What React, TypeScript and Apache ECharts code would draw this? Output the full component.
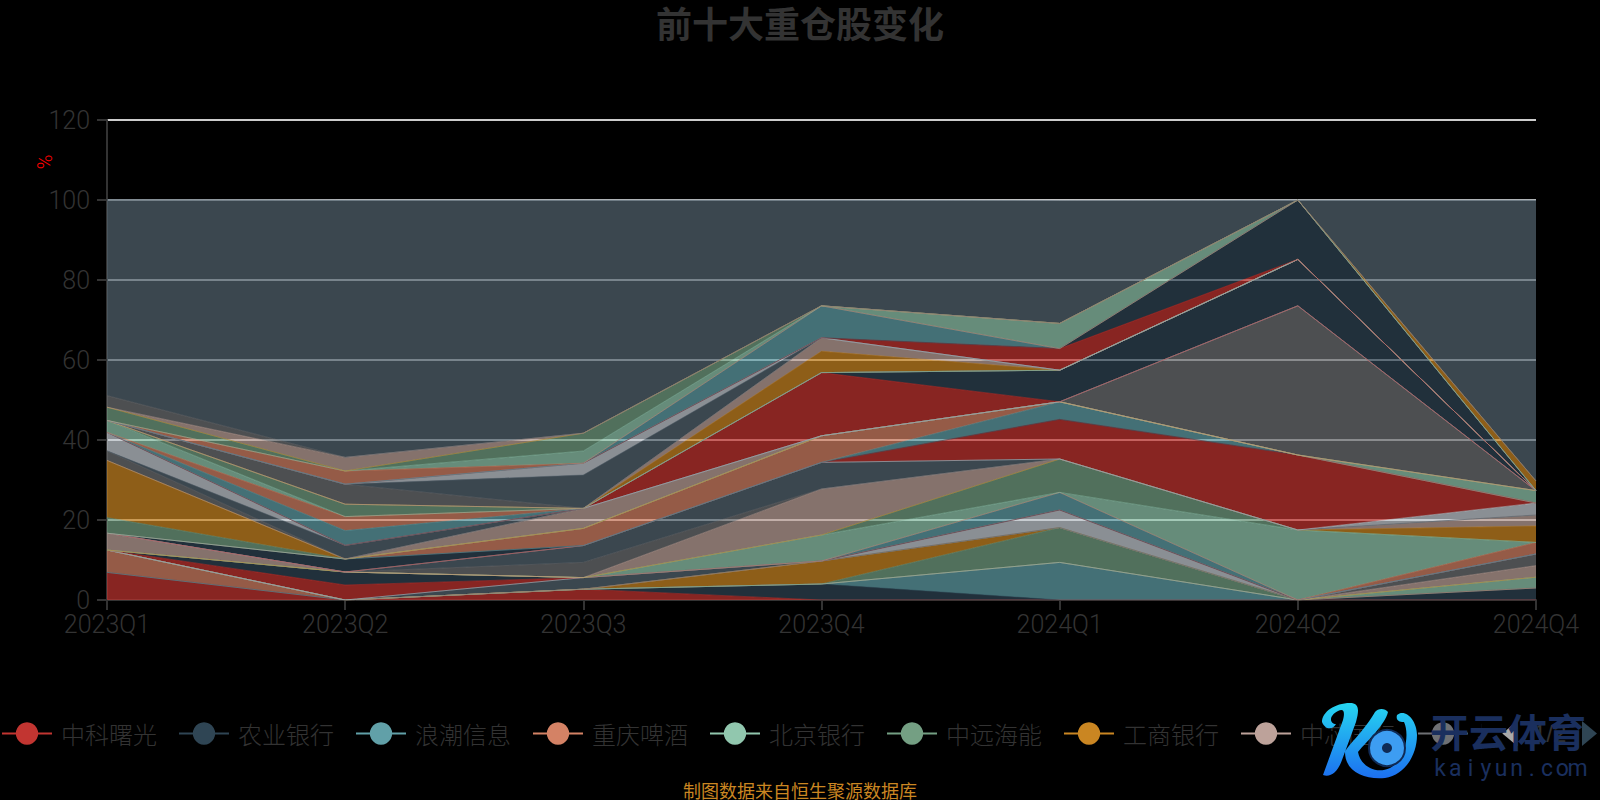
import React, { useEffect, useRef } from "react";
import * as echarts from "echarts";

const quarters = ["2023Q1", "2023Q2", "2023Q3", "2023Q4", "2024Q1", "2024Q2", "2024Q4"];
const yTicks = { min: 0, max: 120, interval: 20 };
const palette = ["#c23531", "#2f4554", "#61a0a8", "#d48265", "#91c7ae", "#749f83", "#ca8622", "#bda29a", "#6e7074", "#546570", "#c4ccd3"];
const legendNames = ["中科曙光", "农业银行", "浪潮信息", "重庆啤酒", "北京银行", "中远海能", "工商银行", "中芯国际", "持仓九", "持仓十"];

// one row per holding, bottom of the stack first; the last row is the remainder up to 100 %
const holdings: number[][] = [
  [6.9, 0, 2.7, 0, 0, 0, 0],
  [0, 0, 0, 4, 0, 0, 3],
  [0, 0, 0, 0, 9.4, 0, 0],
  [5.6, 0, 0, 0, 0, 0, 0],
  [0, 0, 0, 0, 0, 0, 2.7],
  [0, 0, 0, 0, 8.7, 0, 0],
  [0, 0, 0, 5.75, 0, 0, 0],
  [0, 0, 0, 0, 0, 0, 2.9],
  [0, 0, 0, 0, 0, 0, 2.9],
  [0, 0, 2.9, 0, 0, 0, 0],
  [0, 0, 0, 0, 4.4, 0, 0],
  [0, 3.75, 0, 0, 0, 0, 0],
  [0, 3.25, 0, 0, 0, 0, 0],
  [0, 0, 0, 0, 4.4, 0, 0],
  [0, 0, 0, 0, 0, 0, 2.9],
  [0, 0, 0, 6.5, 0, 17.5, 0],
  [0, 0, 0, 0, 8.35, 0, 0],
  [0, 0, 0, 0, 0, 0, 4.1],
  [4.2, 0, 0, 11.5, 0, 0, 2.75],
  [0, 0, 3.8, 0, 0, 0, 0],
  [0, 0, 4.2, 6.65, 0, 0, 0],
  [0, 0, 0, 0, 0, 0, 3],
  [0, 0, 0, 0, 9.9, 18.75, 0],
  [0, 3.25, 0, 0, 0, 0, 0],
  [0, 0, 0, 0, 4.4, 0, 0],
  [0, 0, 4.3, 6.65, 0, 0, 0],
  [0, 0, 0, 0, 0, 0, 3.1],
  [3.9, 0, 0, 0, 0, 0, 0],
  [14.3, 0, 0, 0, 0, 0, 0],
  [0, 0, 5, 0, 0, 0, 0],
  [2.4, 0, 0, 0, 0, 37.3, 0],
  [0, 3.4, 0, 0, 0, 0, 0],
  [4.6, 0, 0, 0, 0, 0, 0],
  [0, 0, 0, 15.8, 0, 0, 0],
  [0, 0, 0, 0, 7.9, 11.6, 0],
  [0, 3.7, 0, 0, 0, 0, 0],
  [0, 3.5, 0, 0, 0, 0, 0],
  [3, 0, 0, 0, 0, 0, 0],
  [0, 3.1, 0, 0, 0, 0, 0],
  [0, 0, 0, 5.35, 0, 0, 0],
  [0, 0, 0, 3.35, 0, 0, 0],
  [0, 5, 0, 0, 0, 0, 0],
  [0, 0, 8.35, 0, 0, 0, 0],
  [0, 0, 2.95, 0, 0, 0, 0],
  [0, 0, 0, 0, 5.4, 0, 0],
  [0, 0, 0, 0, 0, 14.85, 0],
  [0, 0, 0, 8, 0, 0, 0],
  [0, 3.3, 0, 0, 0, 0, 0],
  [0, 0, 3.05, 0, 6.3, 0, 0],
  [3.3, 0, 4.45, 0, 0, 0, 0],
  [0, 0, 0, 0, 0, 0, 2.4],
  [0, 3.4, 0, 0, 0, 0, 0],
  [2.9, 0, 0, 0, 0, 0, 0],
  [49, 64.35, 58.3, 26.45, 30.75, 0, 70.25],
];

const stampName = ["开", "云", "体", "育"];
const stampSite = ["k", "a", "i", "y", "u", "n", ".", "c", "o", "m"];

const LIGHT = "Roboto, 'Noto Sans CJK SC', sans-serif";
const CJK = "'Noto Sans CJK SC', sans-serif";
const STAMP = "#1a2f5e";

const STEM_D =
  "M1350 703 C1335 703 1322 712 1322 722 C1325 730 1333 730 1336 724 C1330 724 1328 716 1338 711 C1344 708 1345 712 1343 720 L1323 775 C1330 778 1338 772 1342 760 L1356 722 C1360 708 1358 703 1350 703 Z " +
  "M1375 712 C1365 730 1348 745 1345 752 C1345 772 1365 780 1385 778 C1405 775 1417 755 1417 735 C1417 720 1405 708 1397 715 C1395 722 1402 722 1404 722 C1410 735 1405 760 1390 768 C1375 775 1360 765 1358 752 C1368 740 1385 725 1388 712 C1385 708 1378 708 1375 712 Z";
echarts.graphic.registerShape("stampLogo", echarts.graphic.extendPath(STEM_D, {}));

export default function App() {
  const ref = useRef<HTMLDivElement>(null);
  useEffect(() => {
    document.body.style.margin = "0";
    document.body.style.background = "#000";
    const chart = echarts.init(ref.current!, null, { renderer: "svg" });
    const names = holdings.map((_, i) => legendNames[i] ?? (i === holdings.length - 1 ? "其他" : `持仓${i + 1}`));
    const blueGrad = () =>
      new echarts.graphic.LinearGradient(0, 0, 0, 1, [
        { offset: 0, color: "#26d6f0" },
        { offset: 1, color: "#1c6ff0" },
      ]);
    chart.setOption({
      animation: false,
      backgroundColor: "#000",
      color: palette,
      title: [
        { text: "前十大重仓股变化", left: "center", top: 4, padding: 0, textStyle: { color: "#333", fontSize: 36, fontWeight: "bold", fontFamily: CJK } },
        { text: "制图数据来自恒生聚源数据库", left: "center", top: 776, textStyle: { color: "#ca8622", fontSize: 18, fontWeight: "normal", fontFamily: CJK } },
      ],
      grid: { left: 107, right: 64, top: 120, bottom: 200 },
      legend: {
        type: "scroll",
        left: 1,
        top: 721,
        width: 1596,
        padding: 0,
        data: legendNames,
        itemWidth: 50,
        itemHeight: 28,
        itemGap: 21,
        lineStyle: { width: 2 },
        textStyle: { color: "#333", fontSize: 24, fontFamily: CJK, fontWeight: 300, padding: [0, 0, 0, 4] },
        pageIconColor: "#2f4554",
        pageIconInactiveColor: "#aaa",
        pageIconSize: [15, 27],
        pageTextStyle: { color: "#333", fontSize: 24 },
      },
      xAxis: {
        type: "category",
        boundaryGap: false,
        data: quarters,
        axisLine: { lineStyle: { color: "#333", width: 2 } },
        axisTick: { length: 10, lineStyle: { color: "#333", width: 2 } },
        axisLabel: { color: "#333", fontSize: 25, margin: 12, fontFamily: LIGHT, fontWeight: 300 },
      },
      yAxis: {
        type: "value",
        ...yTicks,
        axisLine: { show: true, lineStyle: { color: "#333", width: 2 } },
        axisTick: { show: true, length: 10, lineStyle: { color: "#333", width: 2 } },
        axisLabel: { color: "#333", fontSize: 25, margin: 17, fontFamily: LIGHT, fontWeight: 300 },
        splitLine: { show: true, lineStyle: { color: "#ccc", width: 2 } },
      },
      graphic: [
        { type: "text", x: 44, y: 162, rotation: -Math.PI / 2, style: { text: "%", fill: "#f00", fontSize: 20, fontWeight: 300, fontFamily: LIGHT, align: "center", verticalAlign: "middle" } },
        { type: "stampLogo", x: 0, y: 0, z: 100, style: { fill: blueGrad() } },
        { type: "circle", z: 100, shape: { cx: 1387, cy: 748, r: 18 }, style: { fill: "#3d9df2", stroke: "#0f2a55", lineWidth: 2 } },
        { type: "circle", z: 101, shape: { cx: 1387, cy: 748, r: 5 }, style: { fill: "#0f2a55" } },
        ...stampName.map((ch, i) => ({
          type: "text",
          x: 1449.5 + 39 * i,
          y: 730,
          z: 100,
          style: { text: ch, fontSize: 39, fontWeight: "bold", fontFamily: CJK, align: "center", verticalAlign: "middle", fill: STAMP },
        })),
        ...stampSite.map((ch, i) => ({
          type: "text",
          x: 1440 + 15.3 * i,
          y: 768,
          z: 100,
          style: { text: ch, fontSize: 23, fontFamily: LIGHT, align: "center", verticalAlign: "middle", fill: STAMP },
        })),
      ],
      series: holdings.map((values, i) => ({
        name: names[i],
        type: "line",
        stack: "total",
        symbol: "circle",
        showSymbol: false,
        data: values,
        lineStyle: { width: 0.5 },
        areaStyle: { opacity: 0.7 },
      })),
    });
    return () => chart.dispose();
  }, []);
  return <div ref={ref} style={{ width: 1600, height: 800 }} />;
}
